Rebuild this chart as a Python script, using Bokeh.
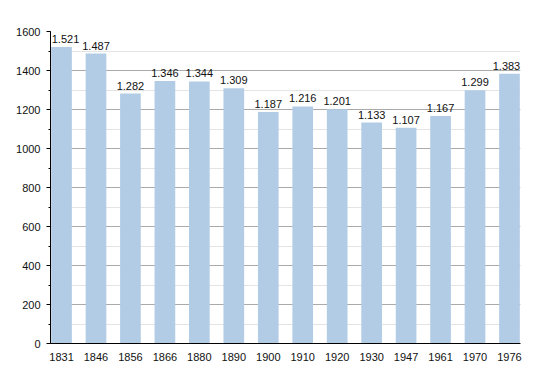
from bokeh.plotting import figure
from bokeh.models import Range1d, FixedTicker, ColumnDataSource, LabelSet
from bokeh.embed import file_html
from bokeh.resources import INLINE
from bokeh.core.properties import value

years = ["1831", "1846", "1856", "1866", "1880", "1890", "1900", "1910", "1920", "1930", "1947", "1961", "1970", "1976"]
population = [1521, 1487, 1282, 1346, 1344, 1309, 1187, 1216, 1201, 1133, 1107, 1167, 1299, 1383]
labels = ["1.521", "1.487", "1.282", "1.346", "1.344", "1.309", "1.187", "1.216", "1.201", "1.133", "1.107", "1.167", "1.299", "1.383"]

xs = list(range(len(years)))
last = len(xs) - 1
xoff = [4 if i == 0 else (-3 if i == last else 0) for i in xs]
src = ColumnDataSource(dict(x=xs, y=population, lab=labels, xo=xoff))

p = figure(width=542, height=365, output_backend="svg", toolbar_location=None,
           x_range=Range1d(-0.32, 13.32), y_range=Range1d(0, 1600),
           min_border_left=50, min_border_right=22, min_border_top=31, min_border_bottom=22)
p.outline_line_color = None
p.background_fill_color = "white"

p.vbar(x="x", top="y", width=0.6, source=src, fill_color="#b2cce6", line_color=None)
p.add_layout(LabelSet(x="x", y="y", text="lab", source=src, text_align="center", text_baseline="bottom",
                      y_offset=4, x_offset="xo", text_font=value("Liberation Sans"),
                      text_font_size=value("11px"), text_color=value("#111111")))

p.xaxis.ticker = FixedTicker(ticks=xs)
p.xaxis.major_label_overrides = {i: y for i, y in enumerate(years)}
p.xaxis.major_tick_line_color = None
p.xaxis.minor_tick_line_color = None
p.xaxis.axis_line_color = "black"
p.xaxis.major_label_standoff = 3
p.xaxis.major_label_text_font = "Liberation Sans"
p.xaxis.major_label_text_font_size = "11px"
p.xaxis.major_label_text_color = "#111111"
p.xgrid.grid_line_color = None

p.yaxis.ticker = FixedTicker(ticks=list(range(0, 1601, 200)), minor_ticks=list(range(0, 1601, 100)))
p.yaxis.axis_line_color = "black"
p.yaxis.major_tick_in = 0
p.yaxis.major_tick_out = 4
p.yaxis.minor_tick_in = 0
p.yaxis.minor_tick_out = 2
p.yaxis.major_label_standoff = 6
p.yaxis.major_label_text_font = "Liberation Sans"
p.yaxis.major_label_text_font_size = "11px"
p.yaxis.major_label_text_color = "#111111"
p.ygrid.grid_line_color = "#aaaaaa"
p.ygrid.minor_grid_line_color = "#e4e4e4"
p.ygrid.level = "underlay"

open("out.html", "w").write(file_html(p, INLINE))
